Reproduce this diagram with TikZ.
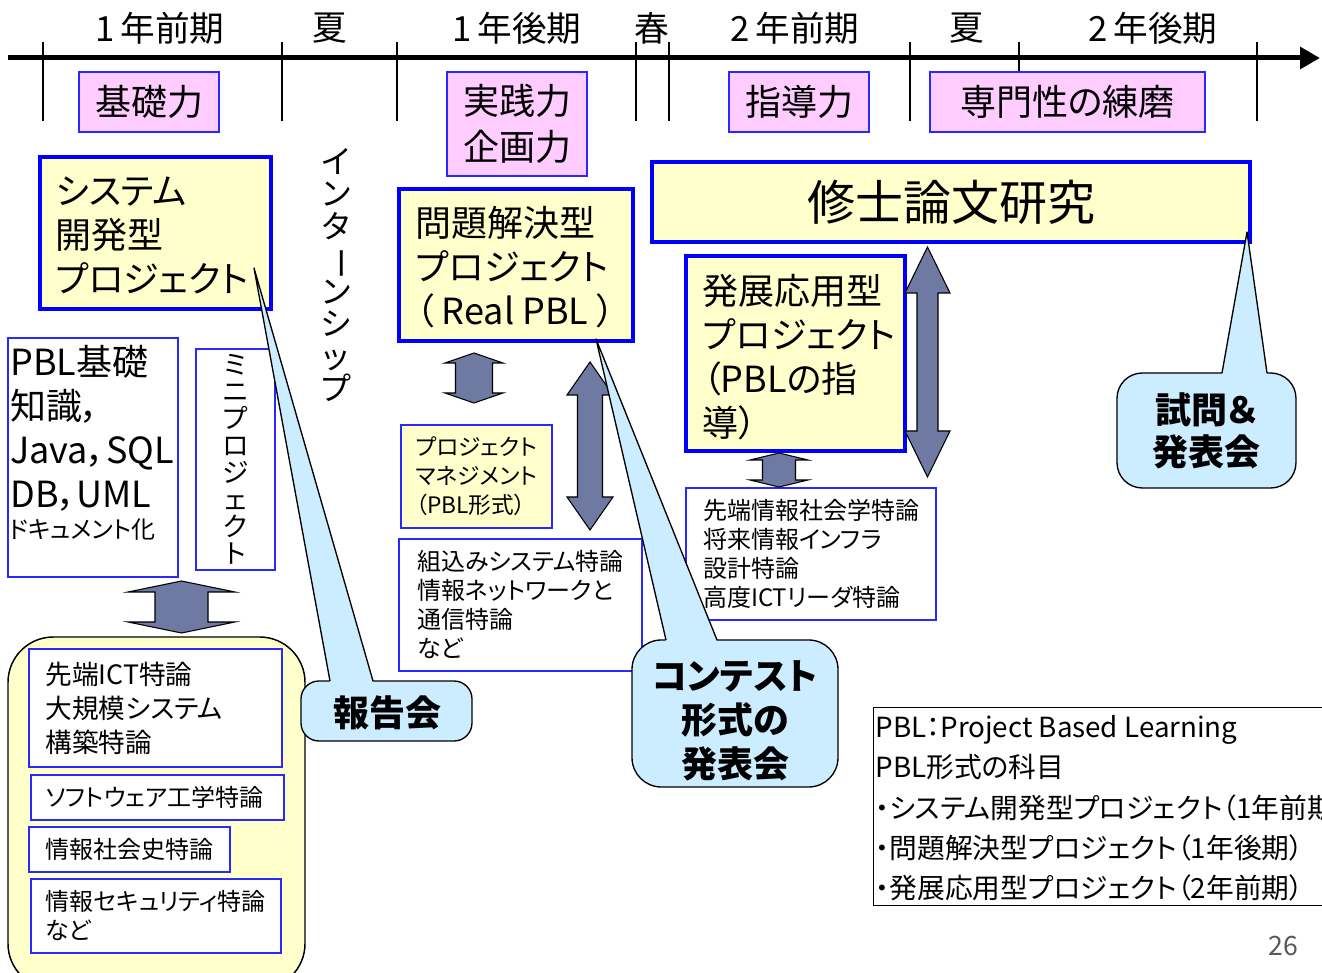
\documentclass[tikz,border=0pt]{standalone}
\usepackage{fontspec}
\setmainfont{Noto Sans CJK JP}[RawFeature=+palt]
\usetikzlibrary{arrows.meta}
\definecolor{pinkc}{RGB}{255,204,255}
\definecolor{yelc}{RGB}{255,255,204}
\definecolor{bluec}{RGB}{0,0,255}
\definecolor{tblue}{RGB}{40,40,255}
\definecolor{callc}{RGB}{204,236,255}
\definecolor{arrc}{RGB}{111,122,162}
\definecolor{pgc}{RGB}{89,89,89}
\newcommand\fs[2]{\fontsize{#1}{#2}\selectfont}
\newcommand\dblarw[6]{% cx ty by hw sw hh
\filldraw[blockarrow] (#1,#2) -- ({#1+#4},{#2+#6}) -- ({#1+#5},{#2+#6}) -- ({#1+#5},{#3-#6}) -- ({#1+#4},{#3-#6}) -- (#1,#3) -- ({#1-#4},{#3-#6}) -- ({#1-#5},{#3-#6}) -- ({#1-#5},{#2+#6}) -- ({#1-#4},{#2+#6}) -- cycle;}
\tikzset{
 pinkbox/.style={draw=tblue, fill=pinkc, line width=0.9pt, inner sep=0pt, font=\fs{27}{34.5}, align=center},
 ybox/.style={draw=bluec, fill=yelc, line width=3pt, inner sep=0pt},
 wbox/.style={draw=tblue, fill=white, line width=0.9pt, inner sep=0pt},
 pmbox/.style={draw=tblue, fill=yelc, line width=0.9pt, inner sep=0pt},
 txt/.style={inner sep=0pt, align=left, anchor=west},
 callbody/.style={draw=black, fill=callc, line width=1pt, rounded corners=#1, inner sep=0pt},
 callbody/.default=15pt,
 calltext/.style={inner sep=0pt, align=center, font=\bfseries\fs{27}{33}},
 callline/.style={draw=black, line width=1pt, line join=round},
 blockarrow/.style={fill=arrc, draw=black, line width=0.8pt},
 tickline/.style={line width=1.9pt},
 period/.style={font=\fs{26}{30}, inner sep=0pt},
}
\begin{document}
\begin{tikzpicture}[x=0.75pt,y=-0.75pt]
\useasboundingbox (0,0) rectangle (1322,973);
\clip (0,0) rectangle (1322,973);
\fill[white] (0,0) rectangle (1322,973);
% timeline
\coordinate (tlstart) at (8,58);
\coordinate (tlend) at (1320,58);
\draw[line width=3.75pt, -{Triangle[length=15pt,width=16pt]}] (tlstart) -- (tlend);
\foreach \xx in {43,282,397,636,669,910,1019,1257}
  \draw[tickline] (\xx,42) -- (\xx,121);
\node[period] (p1) at (160,28) {1\,年前期};
\node[period] (p2) at (330,28) {夏};
\node[period] (p3) at (517,28) {1\,年後期};
\node[period] (p4) at (652,28) {春};
\node[period] (p5) at (795,28) {2\,年前期};
\node[period] (p6) at (967,28) {夏};
\node[period] (p7) at (1153,28) {2\,年後期};
% pink boxes
\node[pinkbox, minimum width=105pt, minimum height=45pt] (kiso) at (149,102) {基礎力};
\node[pinkbox, minimum width=105pt, minimum height=78pt] (jissen) at (517,124) {実践力\\企画力};
\node[pinkbox, minimum width=105pt, minimum height=45pt] (shido) at (799,102) {指導力};
\node[pinkbox, minimum width=206.25pt, minimum height=45pt] (senmon) at (1067.5,102) {専門性の練磨};
% yellow project boxes
\node[ybox, minimum width=173.25pt, minimum height=114pt] (sys) at (155.5,233) {};
\node[txt, font=\fs{27}{33}] (systxt) at ([xshift=13pt,yshift=-2pt]sys.west) {システム\\開発型\\プロジェクト};
\node[ybox, minimum width=175.5pt, minimum height=114pt] (mondai) at (516,265) {};
\node[txt, font=\fs{27}{33}] (mondaitxt) at ([xshift=14pt,yshift=-1.5pt]mondai.west) {問題解決型\\プロジェクト\\（ Real PBL ）};
\node[ybox, minimum width=448.5pt, minimum height=60pt, font=\fs{36}{40}] (shushi) at (951,202) {修士論文研究};
\node[ybox, minimum width=164.25pt, minimum height=146.25pt] (hatten) at (795.5,353.5) {};
\node[txt, font=\fs{27}{33}] (hattentxt) at ([xshift=14pt,yshift=-3pt]hatten.west) {発展応用型\\プロジェクト\\（PBLの指\\導）};
% left column
\node[wbox, minimum width=127.5pt, minimum height=179.25pt] (pblk) at (93,457.5) {};
\node[txt, anchor=north west, font=\fs{27}{33}] (pblktxt) at (10,345) {PBL基礎\\知識，\\Java，SQL\\DB，UML};
\node[txt, font=\fs{18}{22}] (doc) at (9,530) {ドキュメント化};
\node[wbox, minimum width=59.25pt, minimum height=165.75pt] (mini) at (235.5,459.5) {};
\node[font=\fs{20}{20.25}, align=center, inner sep=0pt] (minitxt) at (mini.center) {ミ\\ニ\\プ\\ロ\\ジ\\ェ\\ク\\ト};
\node[font=\fs{24}{24.4}, align=center, inner sep=0pt] (intern) at (336,275) {イ\\ン\\タ\\\rotatebox[origin=c]{-90}{ー}\\ン\\シ\\ッ\\プ};
% middle boxes
\node[pmbox, minimum width=113.25pt, minimum height=77.25pt, font=\fs{17}{21.75}, align=left] (pm) at (476.5,476.5) {プロジェクト\\マネジメント\\（PBL形式）};
\node[wbox, minimum width=182.25pt, minimum height=99pt, font=\fs{18}{21.75}, align=left] (kumi) at (520.5,605) {組込みシステム特論\\情報ネットワークと\\通信特論\\など};
\node[wbox, minimum width=187.5pt, minimum height=99pt, font=\fs{18}{21.75}, align=left] (sentan) at (811,554) {先端情報社会学特論\\将来情報インフラ\\設計特論\\高度ICTリーダ特論};
% bottom-left container
\node[draw=black, fill=yelc, line width=1.1pt, rounded corners=34pt, minimum width=222.75pt, minimum height=264pt, inner sep=0pt] (cont) at (156.5,813) {};
\node[wbox, minimum width=189.75pt, minimum height=88.5pt] (ict) at (155.5,708) {};
\node[txt, font=\fs{20}{25.5}] (icttxt) at ([xshift=12.75pt]ict.west) {先端ICT特論\\大規模システム\\構築特論};
\node[wbox, minimum width=189.75pt, minimum height=33.75pt] (soft) at (157.5,797.5) {};
\node[txt, font=\fs{18}{22}] (softtxt) at ([xshift=11.25pt]soft.west) {ソフトウェア工学特論};
\node[wbox, minimum width=150.75pt, minimum height=33.75pt] (shakai) at (129.5,849.5) {};
\node[txt, font=\fs{18}{22}] (shakaitxt) at ([xshift=12.75pt]shakai.west) {情報社会史特論};
\node[wbox, minimum width=187.5pt, minimum height=55.5pt] (sec) at (156,916) {};
\node[txt, font=\fs{18}{21.75}] (sectxt) at ([xshift=11.25pt]sec.west) {情報セキュリティ特論\\など};
% block double arrows
\dblarw{181.5}{581}{633}{53.5}{26.5}{11}
\dblarw{474}{353}{403}{29}{18.5}{10}
\dblarw{779}{453}{487}{29}{16.5}{7}
\dblarw{590}{362}{530}{23}{12.5}{33}
\dblarw{927.5}{247}{477}{22.5}{10.5}{46}
% legend
\node[draw=black, line width=0.75pt, minimum width=342.75pt, minimum height=148.5pt, inner sep=0pt] (legend) at (1101.5,806) {};
\node[txt, font=\fs{20.8}{30.2}] (legtxt) at (875.5,808.5) {PBL：Project Based Learning\\PBL形式の科目\\・システム開発型プロジェクト（1年前期）\\・問題解決型プロジェクト（1年後期）\\・発展応用型プロジェクト（2年前期）};
\node[font=\fs{20}{24}, text=pgc, inner sep=0pt] (pg) at (1283,946) {26};
% callouts
\node[callbody=13.5pt, minimum width=128.25pt, minimum height=45pt] (hokoku) at (386.5,711) {};
\node[calltext] (hokokutxt) at (387,713) {報告会};
\coordinate (hokokutip) at (254,268);
\coordinate (hokokuL) at (330,681);
\coordinate (hokokuR) at (373,681);
\fill[callc] (hokokutip) -- ([yshift=-1.5pt]hokokuL) -- ([yshift=-1.5pt]hokokuR) -- cycle;
\draw[callline] (hokokuL) -- (hokokutip) -- (hokokuR);
\node[callbody=22pt, minimum width=154.5pt, minimum height=110.25pt] (contest) at (735,713.5) {};
\node[calltext] (contesttxt) at (735,721) {コンテスト\\形式の\\発表会};
\coordinate (contesttip) at (596,339);
\coordinate (contestL) at (666,640);
\coordinate (contestR) at (717,640);
\fill[callc] (contesttip) -- ([yshift=-1.5pt]contestL) -- ([yshift=-1.5pt]contestR) -- cycle;
\draw[callline] (contestL) -- (contesttip) -- (contestR);
\node[callbody=19pt, minimum width=134.25pt, minimum height=86.25pt] (shimon) at (1206.5,430.5) {};
\node[calltext, font=\bfseries\fs{27}{31.5}] (shimontxt) at (1206,431) {試問＆\\発表会};
\coordinate (shimontip) at (1247,232);
\coordinate (shimonL) at (1222,373);
\coordinate (shimonR) at (1267,373);
\fill[callc] (shimontip) -- ([yshift=-1.5pt]shimonL) -- ([yshift=-1.5pt]shimonR) -- cycle;
\draw[callline] (shimonL) -- (shimontip) -- (shimonR);
\end{tikzpicture}
\end{document}
